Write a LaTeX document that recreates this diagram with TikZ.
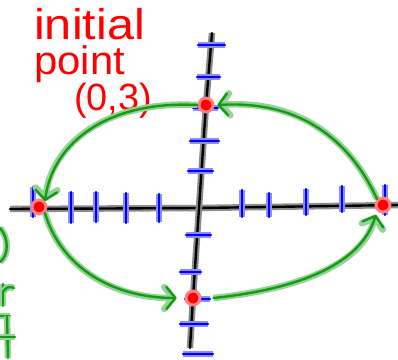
\documentclass[tikz,border=0pt]{standalone}
\usepackage{fontspec}
\setmainfont{Liberation Sans}
\usetikzlibrary{arrows.meta}
\definecolor{grn}{RGB}{20,155,20}

\begin{document}
\begin{tikzpicture}[x=1bp,y=-1bp,
   ink/.style={draw=#1,line width=2.4pt,line cap=round,line join=round,
      preaction={draw=#1!45,line width=6.5pt}},
   axis/.style={ink=black},
   tick/.style={ink=blue},
   ellarc/.style={ink=grn,-{Straight Barb[length=9pt,width=22pt,round]}},
   pt/.style={circle,fill=red,draw=red!50,line width=3pt,minimum size=14pt,inner sep=0pt},
   note/.style={text=red,align=left,inner sep=0pt,font=\fontsize{40}{35}\selectfont}]
  \useasboundingbox (0,0) rectangle (398,360);
  \node[note,anchor=north west] (note) at (34,8)
    {\scalebox{1.22}[1.08]{initial}\\\scalebox{1.05}[1]{point}\\\hspace*{40bp}\scalebox{.95}{(0,3)}};
  \draw[axis] (10,209) -- (199,208) -- (398,205);
  \draw[axis] (212,33) -- (206,105) -- (199,208) -- (193,298) -- (190,348);
  \foreach \x/\a/\b in {33/187/217,71/192/223,96/192/222,126/193/223,159/194/222,
      242/190/217,269/193/217,306/189/215,342/186/212,385/185/215}
    \draw[tick] (\x,\a) -- (\x,\b);
  \foreach \y/\a/\b in {45/198/225,77/197/220,108/193/218,141/190/219,171/188/213,
      235/186/211,272/180/201,299/185/210,324/180/208,354/183/213}
    \draw[tick] (\a,\y) -- (\b,\y);
  \node[pt] (ptN) at (206,105) {};
  \node[pt] (ptW) at (39,207) {};
  \node[pt] (ptE) at (383,205) {};
  \node[pt] (ptS) at (193,298) {};
  \draw[ellarc] (ptE.north west) .. controls (350,140) and (300,100) .. ([xshift=3pt]ptN.east);
  \draw[ellarc] (ptN.west) .. controls (105,100) and (52,145) .. (ptW.north east);
  \draw[ellarc,shorten >=8pt] (ptW.south east) .. controls (60,265) and (110,298) .. (ptS.west);
  \draw[ellarc,shorten >=4pt] ([xshift=12pt]ptS.east) .. controls (290,290) and (360,268) .. (ptE.south west);
  \draw[ink=grn] (0,228) .. controls (9,238) and (9,255) .. (0,262);
  \draw[ink=grn] (3,284) -- (3,306);
  \draw[ink=grn] (3,292) .. controls (6,287) and (10,286) .. (14,288);
  \draw[ink=grn] (0,316) -- (10,316);
  \draw[ink=grn] (7,316) -- (8,358);
  \draw[ink=grn] (0,337) -- (15,337);
\end{tikzpicture}
\end{document}
